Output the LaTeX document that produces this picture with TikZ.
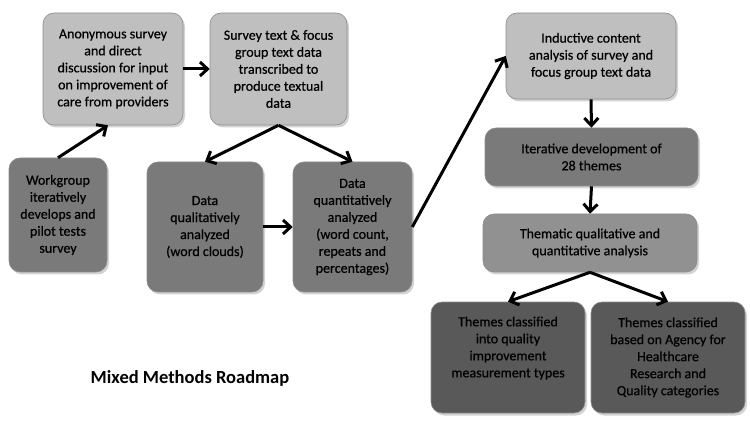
\documentclass[tikz,border=0pt]{standalone}
\usepackage{fontspec}
\setmainfont{Carlito}
\newfontfamily\boxfont[FakeBold=0.6]{Carlito}
\usepackage{tikz}
\usetikzlibrary{arrows.meta,positioning,shadows}

\begin{document}
\begin{tikzpicture}[x=1pt,y=-1pt,
    box/.style={rounded corners=11pt,draw=black!45,line width=0.6pt,align=center,
        inner sep=0pt,font=\boxfont\fontsize{14}{17}\selectfont,
        drop shadow={opacity=0.35,shadow xshift=2pt,shadow yshift=-2.5pt}},
    lightbox/.style={box,fill=black!25},
    midbox/.style={box,fill=black!43},
    darkbox/.style={box,fill=black!52},
    deepbox/.style={box,fill=black!65},
    flow/.style={line width=3pt,-{Straight Barb[length=7.5pt,width=14pt]}}]
\useasboundingbox (0,0) rectangle (750,422);
% left part
\node[lightbox,minimum width=140pt,minimum height=112pt] (survey) at (113,69)
    {Anonymous survey\\and direct\\discussion for input\\on improvement of\\care from providers};
\node[lightbox,minimum width=137pt,minimum height=112pt] (transcribe) at (278.5,69)
    {Survey text \& focus\\group text data\\transcribed to\\produce textual\\data};
\node[darkbox,minimum width=98pt,minimum height=114pt] (workgroup) at (58,215)
    {Workgroup\\iteratively\\develops and\\pilot tests\\survey};
\node[darkbox,minimum width=116pt,minimum height=130pt] (qual) at (205,227)
    {Data\\qualitatively\\analyzed\\(word clouds)};
\node[darkbox,minimum width=119pt,minimum height=130pt] (quant) at (352.5,227)
    {Data\\quantitatively\\analyzed\\(word count,\\repeats and\\percentages)};
\node[font=\fontsize{18.5}{22}\selectfont\bfseries] (title) at (190,378) {Mixed Methods Roadmap};
% right part
\node[lightbox,minimum width=170pt,minimum height=86pt] (inductive) at (591,56)
    {Inductive content\\analysis of survey and\\focus group text data};
\node[darkbox,minimum width=213pt,minimum height=58pt] (themes) at (591.5,157)
    {Iterative development of\\28 themes};
\node[midbox,minimum width=214pt,minimum height=58pt] (thematic) at (590,243)
    {Thematic qualitative and\\quantitative analysis};
\node[deepbox,minimum width=154pt,minimum height=111pt] (qitypes) at (508,357.5)
    {Themes classified\\into quality\\improvement\\measurement types\\[4pt]};
\node[deepbox,minimum width=154pt,minimum height=111pt] (ahrq) at (668,357.5)
    {Themes classified\\based on Agency for\\Healthcare\\Research and\\Quality categories};
% arrows
\draw[flow] (workgroup.north) -- ([xshift=-5pt]survey.south);
\draw[flow] (survey.east) -- (transcribe.west);
\draw[flow] (transcribe.south) -- (qual.north);
\draw[flow] (transcribe.south) -- (quant.north);
\draw[flow] (qual.east) -- (quant.west);
\draw[flow] (quant.east) -- (inductive.west);
\draw[flow] (inductive.south) -- (themes.north);
\draw[flow] (themes.south) -- (thematic.north);
\draw[flow] (thematic.south) -- (qitypes.north);
\draw[flow] (thematic.south) -- (ahrq.north);
\end{tikzpicture}
\end{document}
